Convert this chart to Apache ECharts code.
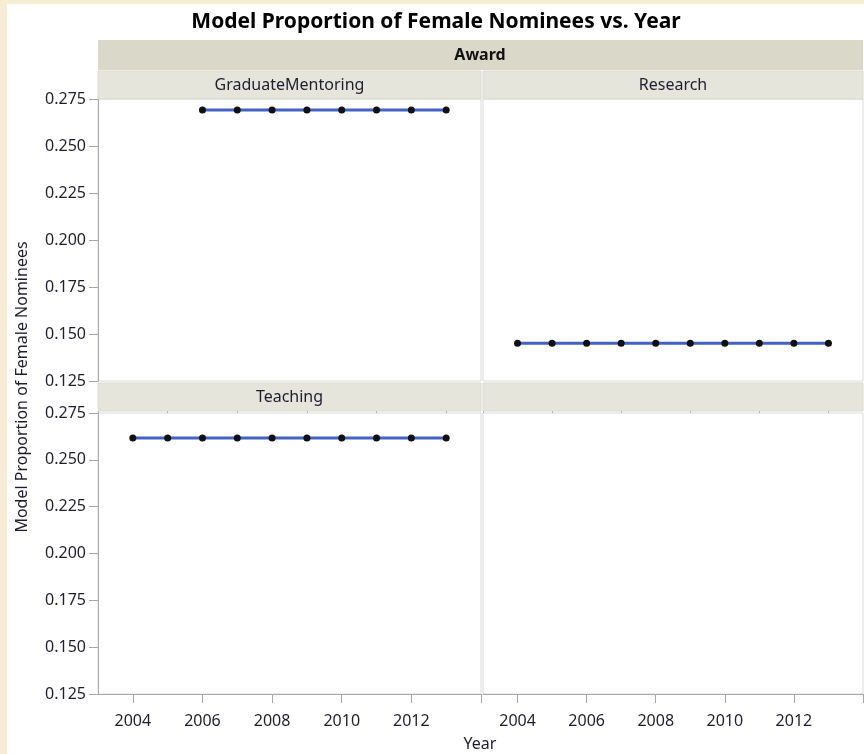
<!DOCTYPE html>
<html>
<head>
<meta charset="utf-8">
<script src="https://cdn.jsdelivr.net/npm/echarts@6/dist/echarts.min.js"></script>
<style>
html,body{margin:0;padding:0;background:#F7EDD4;}
#c{position:absolute;left:0;top:0;width:864px;height:754px;}
</style>
</head>
<body>
<div id="c"></div>
<script>
// ---- data ----
const gradYears = [2006, 2007, 2008, 2009, 2010, 2011, 2012, 2013];
const gradValues = [0.2691, 0.2691, 0.2691, 0.2691, 0.2691, 0.2691, 0.2691, 0.2691];
const researchYears = [2004, 2005, 2006, 2007, 2008, 2009, 2010, 2011, 2012, 2013];
const researchValues = [0.1451, 0.1451, 0.1451, 0.1451, 0.1451, 0.1451, 0.1451, 0.1451, 0.1451, 0.1451];
const teachingYears = [2004, 2005, 2006, 2007, 2008, 2009, 2010, 2011, 2012, 2013];
const teachingValues = [0.2617, 0.2617, 0.2617, 0.2617, 0.2617, 0.2617, 0.2617, 0.2617, 0.2617, 0.2617];
const xLabelValues = [2004, 2006, 2008, 2010, 2012];
const xMajorTicks = [2004, 2006, 2008, 2010, 2012, 2014];
const xMinorTicks = [2003, 2005, 2007, 2009, 2011, 2013];
const panelTitles = ['GraduateMentoring', 'Research', 'Teaching', ''];

const FONT = 'Noto Sans';
const TXT = '#1e1e30';
const AX = '#a8a8a8';

const chart = echarts.init(document.getElementById('c'), null, {renderer: 'canvas'});

const grids = [
  {left: 98, top: 99, width: 383, height: 282},
  {left: 483, top: 99, width: 380, height: 282},
  {left: 98, top: 413, width: 383, height: 281},
  {left: 483, top: 413, width: 380, height: 281}
].map(g => Object.assign({show: true, backgroundColor: '#fff', borderColor: '#dcdcdc', borderWidth: 1}, g));

const xAxes = [];
const yAxes = [];
for (let i = 0; i < 4; i++) {
  const bottom = i >= 2;
  xAxes.push({
    type: 'value', gridIndex: i, min: 2003, max: 2014, interval: 1,
    splitLine: {show: false},
    axisLine: {show: bottom, onZero: false, lineStyle: {color: AX, width: 1}},
    axisTick: {show: bottom, length: 9, lineStyle: {color: AX}, customValues: xMajorTicks},
    axisLabel: {show: bottom, customValues: xLabelValues, color: TXT, fontFamily: FONT, fontSize: 16, margin: 19,
      formatter: v => String(v)}
  });
  yAxes.push({
    type: 'value', gridIndex: i, min: 0.125, max: 0.275, interval: 0.025,
    splitLine: {show: false},
    axisLine: {show: i % 2 === 0, lineStyle: {color: AX, width: 1}},
    axisTick: {show: i % 2 === 0, length: 9, lineStyle: {color: AX}},
    axisLabel: {show: i % 2 === 0, color: TXT, fontFamily: FONT, fontSize: 16, margin: 12,
      formatter: v => v.toFixed(3)}
  });
}
// minor ticks on the bottom axes
for (const gi of [2, 3]) {
  xAxes.push({
    type: 'value', gridIndex: gi, min: 2003, max: 2014, interval: 1,
    splitLine: {show: false},
    axisLine: {show: false, onZero: false},
    axisTick: {show: true, length: 5, lineStyle: {color: AX}, customValues: xMinorTicks},
    axisLabel: {show: false}
  });
}

function mkSeries(years, vals, gi) {
  return {
    type: 'line', xAxisIndex: gi, yAxisIndex: gi,
    data: years.map((y, k) => [y, vals[k]]),
    symbol: 'circle', symbolSize: 7,
    itemStyle: {color: '#111'},
    lineStyle: {color: '#4262c4', width: 3},
    silent: true, animation: false, z: 3
  };
}

const graphics = [];
// white page
graphics.push({type: 'rect', shape: {x: 7, y: 4, width: 857, height: 750}, style: {fill: '#fff'}, z: -10});
// Award header
graphics.push({type: 'rect', shape: {x: 98, y: 40, width: 765, height: 30}, style: {fill: '#DAD8C8'}, z: 1});
graphics.push({type: 'text', x: 480, y: 55, style: {text: 'Award', font: 'bold 16px ' + FONT, fill: '#111', align: 'center', verticalAlign: 'middle'}, z: 2});
// panel headers
const heads = [
  {x: 98, y: 71, w: 383},
  {x: 483, y: 71, w: 380},
  {x: 98, y: 383, w: 383},
  {x: 483, y: 383, w: 380}
];
heads.forEach((h, i) => {
  graphics.push({type: 'rect', shape: {x: h.x, y: h.y, width: h.w, height: 28}, style: {fill: '#E6E5DC', stroke: '#DCDBD2', lineWidth: 1}, z: 1});
  graphics.push({type: 'text', x: h.x + h.w / 2, y: h.y + 14, style: {text: panelTitles[i], font: '16px ' + FONT, fill: TXT, align: 'center', verticalAlign: 'middle'}, z: 2});
});
// title
graphics.push({type: 'text', x: 436, y: 22, style: {text: 'Model Proportion of Female Nominees vs. Year', font: 'bold 21px ' + FONT, fill: '#000', align: 'center', verticalAlign: 'middle'}, z: 2});
// axis names
graphics.push({type: 'text', x: 480, y: 744, style: {text: 'Year', font: '16px ' + FONT, fill: TXT, align: 'center', verticalAlign: 'middle'}, z: 2});
graphics.push({type: 'text', x: 22, y: 387, rotation: Math.PI / 2, style: {text: 'Model Proportion of Female Nominees', font: '16px ' + FONT, fill: TXT, align: 'center', verticalAlign: 'middle'}, z: 2});

chart.setOption({
  animation: false,
  backgroundColor: 'transparent',
  grid: grids,
  xAxis: xAxes,
  yAxis: yAxes,
  series: [
    mkSeries(gradYears, gradValues, 0),
    mkSeries(researchYears, researchValues, 1),
    mkSeries(teachingYears, teachingValues, 2)
  ],
  graphic: graphics
});
</script>
</body>
</html>
